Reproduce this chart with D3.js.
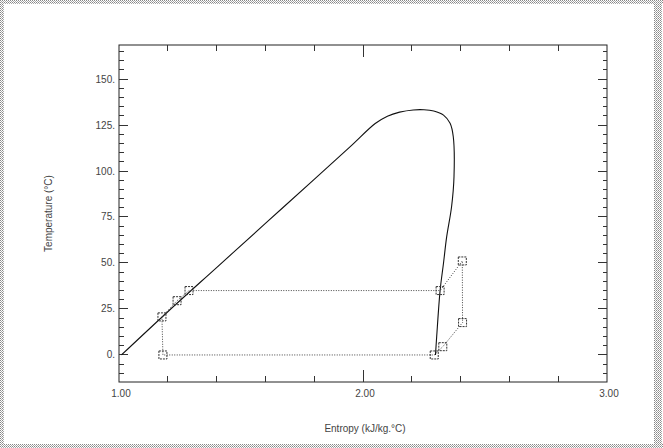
<!DOCTYPE html>
<html><head><meta charset="utf-8">
<script src="https://cdn.jsdelivr.net/npm/d3@7"></script>
<style>body{margin:0;background:#fff}svg{display:block}text{font-family:"Liberation Sans",Arial,sans-serif}</style>
</head><body>
<svg id="c" width="663" height="448"></svg>
<script>
// Saturation dome (entropy kJ/kg.°C, temperature °C)
const domeS = [1.01, 1.20, 1.40, 1.60, 1.80, 1.95, 2.05, 2.10, 2.15, 2.206, 2.25, 2.29, 2.33, 2.357, 2.37, 2.373, 2.363, 2.343, 2.33, 2.316, 2.302, 2.297];
const domeT = [0, 23.5, 47.5, 71.5, 95.5, 113.5, 125.8, 129.8, 132.0, 133.2, 133.3, 132.6, 130.4, 125.9, 118.6, 97.0, 80.6, 64.3, 50.0, 35.0, 10.0, 0];
// Cycle state points (path order)
const cycleS = [2.292, 2.327, 2.408, 2.407, 2.316, 1.287, 1.238, 1.176, 1.18, 2.292];
const cycleT = [0, 4.5, 17.6, 51.1, 35.0, 35.0, 29.5, 20.7, 0, 0];
const xTickValues = [1, 2, 3];
const xTickLabels = ["1.00", "2.00", "3.00"];
const yTickValues = [0, 25, 50, 75, 100, 125, 150];
const yTickLabels = ["0.", "25.", "50.", "75.", "100.", "125.", "150."];
const xTitle = "Entropy (kJ/kg.°C)";
const yTitle = "Temperature (°C)";

const svg = d3.select("#c");
const L = 119, R = 607, T = 45, B = 382;
const x = d3.scaleLinear().domain([1, 3]).range([L, R]);
const y = d3.scaleLinear().domain([-14.7, 168.5]).range([B, T]);

// dithered outer border
const defs = svg.append("defs");
const pat = defs.append("pattern").attr("id", "dith").attr("width", 2).attr("height", 2).attr("patternUnits", "userSpaceOnUse");
pat.append("rect").attr("width", 2).attr("height", 2).attr("fill", "#fff");
pat.append("rect").attr("width", 1).attr("height", 1).attr("fill", "#888");
pat.append("rect").attr("x", 1).attr("y", 1).attr("width", 1).attr("height", 1).attr("fill", "#aaa");
svg.append("rect").attr("x", 0).attr("y", 0).attr("width", 663).attr("height", 4).attr("fill", "url(#dith)");
svg.append("rect").attr("x", 0).attr("y", 0).attr("width", 4).attr("height", 448).attr("fill", "url(#dith)");
svg.append("rect").attr("x", 654).attr("y", 0).attr("width", 8).attr("height", 448).attr("fill", "url(#dith)");
svg.append("rect").attr("x", 0).attr("y", 444).attr("width", 663).attr("height", 4).attr("fill", "url(#dith)");

// frame
svg.append("rect").attr("x", L).attr("y", T).attr("width", R - L).attr("height", B - T)
  .attr("fill", "none").attr("stroke", "#222").attr("stroke-width", 1);

const g = svg.append("g").attr("stroke", "#333").attr("stroke-width", 1).attr("shape-rendering", "crispEdges");
// x ticks (bottom & top, inward)
const xMinor = d3.range(1.2, 2.81, 0.2).filter(v => Math.abs(v - 2) > 1e-6);
xMinor.forEach(v => {
  g.append("line").attr("x1", x(v)).attr("x2", x(v)).attr("y1", B).attr("y2", B - 6);
  g.append("line").attr("x1", x(v)).attr("x2", x(v)).attr("y1", T).attr("y2", T + 6);
});
[2].forEach(v => {
  g.append("line").attr("x1", x(v)).attr("x2", x(v)).attr("y1", B).attr("y2", B - 12);
  g.append("line").attr("x1", x(v)).attr("x2", x(v)).attr("y1", T).attr("y2", T + 12);
});
// y ticks (left & right, inward)
const yMinor = d3.range(-10, 166, 5).filter(v => v % 25 !== 0);
yMinor.forEach(v => {
  g.append("line").attr("x1", L).attr("x2", L + 5).attr("y1", y(v)).attr("y2", y(v));
  g.append("line").attr("x1", R).attr("x2", R - 4).attr("y1", y(v)).attr("y2", y(v));
});
yTickValues.forEach(v => {
  g.append("line").attr("x1", L).attr("x2", L + 9).attr("y1", y(v)).attr("y2", y(v));
  g.append("line").attr("x1", R).attr("x2", R - 9).attr("y1", y(v)).attr("y2", y(v));
});

// tick labels
const lab = svg.append("g").attr("fill", "#444").attr("font-size", 10);
yTickValues.forEach((v, i) => {
  lab.append("text").attr("x", L - 4).attr("y", y(v)).attr("dy", "0.35em").attr("text-anchor", "end").text(yTickLabels[i]);
});
xTickValues.forEach((v, i) => {
  lab.append("text").attr("x", x(v) + 2).attr("y", 397).attr("text-anchor", "middle").text(xTickLabels[i]);
});
lab.append("text").attr("x", (L + R) / 2 + 2).attr("y", 432).attr("text-anchor", "middle").text(xTitle);
lab.append("text").attr("transform", `translate(48,${(T + B) / 2}) rotate(-90)`).attr("text-anchor", "middle").attr("dy", "0.35em").text(yTitle);

// dome
const domePts = domeS.map((s, i) => [s, domeT[i]]);
svg.append("path").datum(domePts)
  .attr("d", d3.line().x(d => x(d[0])).y(d => y(d[1])).curve(d3.curveCatmullRom.alpha(0.5)))
  .attr("fill", "none").attr("stroke", "#111").attr("stroke-width", 1.1);

// cycle
const cycPts = cycleS.map((s, i) => [s, cycleT[i]]);
svg.append("path").datum(cycPts)
  .attr("d", d3.line().x(d => x(d[0])).y(d => y(d[1])))
  .attr("fill", "none").attr("stroke", "#444").attr("stroke-width", 1).attr("stroke-dasharray", "1,1.5");

// markers
svg.append("g").selectAll("rect").data(cycPts.slice(0, -1)).join("rect")
  .attr("x", d => x(d[0]) - 4).attr("y", d => y(d[1]) - 4).attr("width", 8).attr("height", 8)
  .attr("fill", "none").attr("stroke", "#333").attr("stroke-width", 1).attr("stroke-dasharray", "2,1");
</script>
</body></html>
